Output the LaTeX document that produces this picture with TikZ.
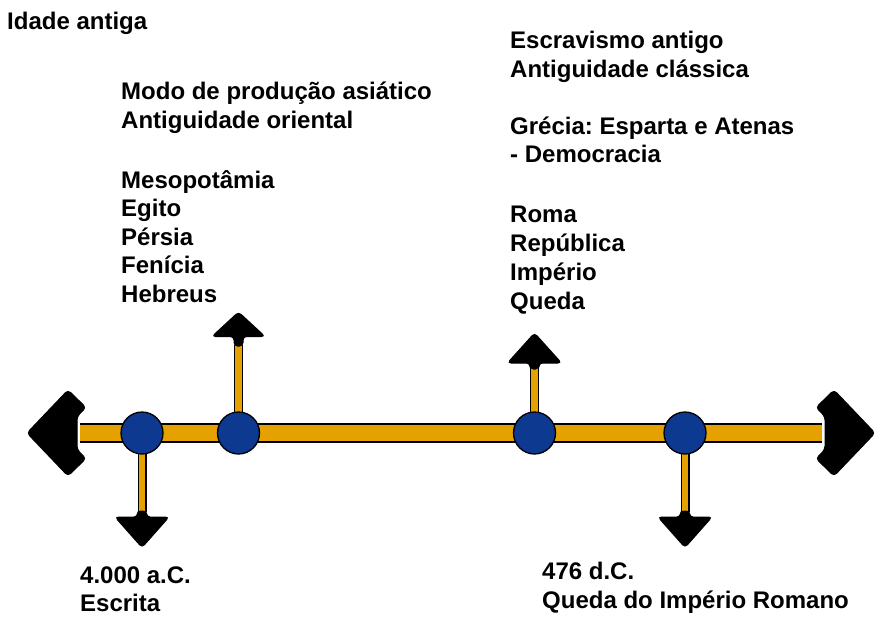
\documentclass[tikz,border=0pt]{standalone}
\usepackage{fontspec}
\setmainfont{Liberation Sans}
\frenchspacing
\definecolor{barorange}{RGB}{229,161,0}
\definecolor{dotblue}{RGB}{13,57,145}
\begin{document}
\begin{tikzpicture}[x=1pt,y=-1pt,
  lbl/.style={anchor=base west,inner sep=0pt,font=\fontsize{24}{29}\selectfont\bfseries},
  dot/.style={circle,minimum size=42pt,inner sep=0pt,fill=dotblue,draw=black,line width=1.3pt},
  head/.style={fill=black,draw=black,line width=1pt,rounded corners=3.5pt},
  barout/.style={draw=black,line width=19.5pt},
  barin/.style={draw=barorange,line width=16.9pt},
  stemout/.style={draw=black,line width=9pt},
  stemin/.style={draw=barorange,line width=6.4pt}]
\useasboundingbox (0,0) rectangle (886,622);

% time axis
\coordinate (lend) at (80,433);
\coordinate (rend) at (822,433);
\draw[barout] (lend) -- (rend);
\draw[barin] (lend) -- (rend);

% large arrowheads at both ends of the axis
\path[head] (27,433) -- (68,390) -- (86,407.5) -- (77,416.5) -- (77,449.5)
  -- (86,458.5) -- (68,476) -- cycle;
\path[head] (875,433) -- (834,390) -- (816,407.5) -- (825,416.5) -- (825,449.5)
  -- (816,458.5) -- (834,476) -- cycle;

% positions of the events and ends of their stems
\coordinate (p1) at (142,433);
\coordinate (p2) at (238.5,433);
\coordinate (p3) at (534.5,433);
\coordinate (p4) at (685,433);
\coordinate (n1) at (142,512);
\coordinate (n2) at (238.5,345);
\coordinate (n3) at (534.5,368);
\coordinate (n4) at (685,512);

% stems
\foreach \c/\n in {p1/n1,p2/n2,p3/n3,p4/n4}{
  \draw[stemout] (\c) -- (\n);
  \draw[stemin] (\c) -- (\n);
}

% events on the axis
\node[dot] (c1) at (p1) {};
\node[dot] (c2) at (p2) {};
\node[dot] (c3) at (p3) {};
\node[dot] (c4) at (p4) {};

% small arrowheads
\path[head] (137.5,511) -- (137.5,517) -- (115,517) -- (142,547.5) -- (169,517)
  -- (146.5,517) -- (146.5,511) -- cycle;
\path[head] (234,346) -- (234,336.5) -- (212,336.5) -- (238.5,312) -- (265,336.5)
  -- (243,336.5) -- (243,346) -- cycle;
\path[head] (530,369) -- (530,363) -- (507.5,363) -- (534.5,333) -- (561.5,363)
  -- (539,363) -- (539,369) -- cycle;
\path[head] (680.5,511) -- (680.5,517) -- (658,517) -- (685,547.5) -- (712,517)
  -- (689.5,517) -- (689.5,511) -- cycle;

% labels
\node[lbl] (tidade) at (7,29) {Idade antiga};

\node[lbl] (tmodo) at (121,99) {Modo de produção asiático};
\node[lbl] (torient) at (121,128) {Antiguidade oriental};

\node[lbl] (tmeso) at (121,188) {Mesopotâmia};
\node[lbl] (tegito) at (121,216.5) {Egito};
\node[lbl] (tpersia) at (121,245) {Pérsia};
\node[lbl] (tfenicia) at (121,273.5) {Fenícia};
\node[lbl] (thebreus) at (121,302) {Hebreus};

\node[lbl] (tescrav) at (510,48) {Escravismo antigo};
\node[lbl] (tclass) at (510,77) {Antiguidade clássica};
\node[lbl] (tgrecia) at (510,134) {Grécia: Esparta e Atenas};
\node[lbl] (tdemo) at (510,162) {- Democracia};

\node[lbl] (troma) at (510,222) {Roma};
\node[lbl] (trep) at (510,251) {República};
\node[lbl] (timp) at (510,280) {Império};
\node[lbl] (tqueda) at (510,309) {Queda};

\node[lbl] (t4000) at (80,583) {4.000 a.C.};
\node[lbl] (tescrita) at (80,611) {Escrita};

\node[lbl] (t476) at (542,579) {476 d.C.};
\node[lbl] (tfim) at (542,608) {Queda do Império Romano};
\end{tikzpicture}
\end{document}
